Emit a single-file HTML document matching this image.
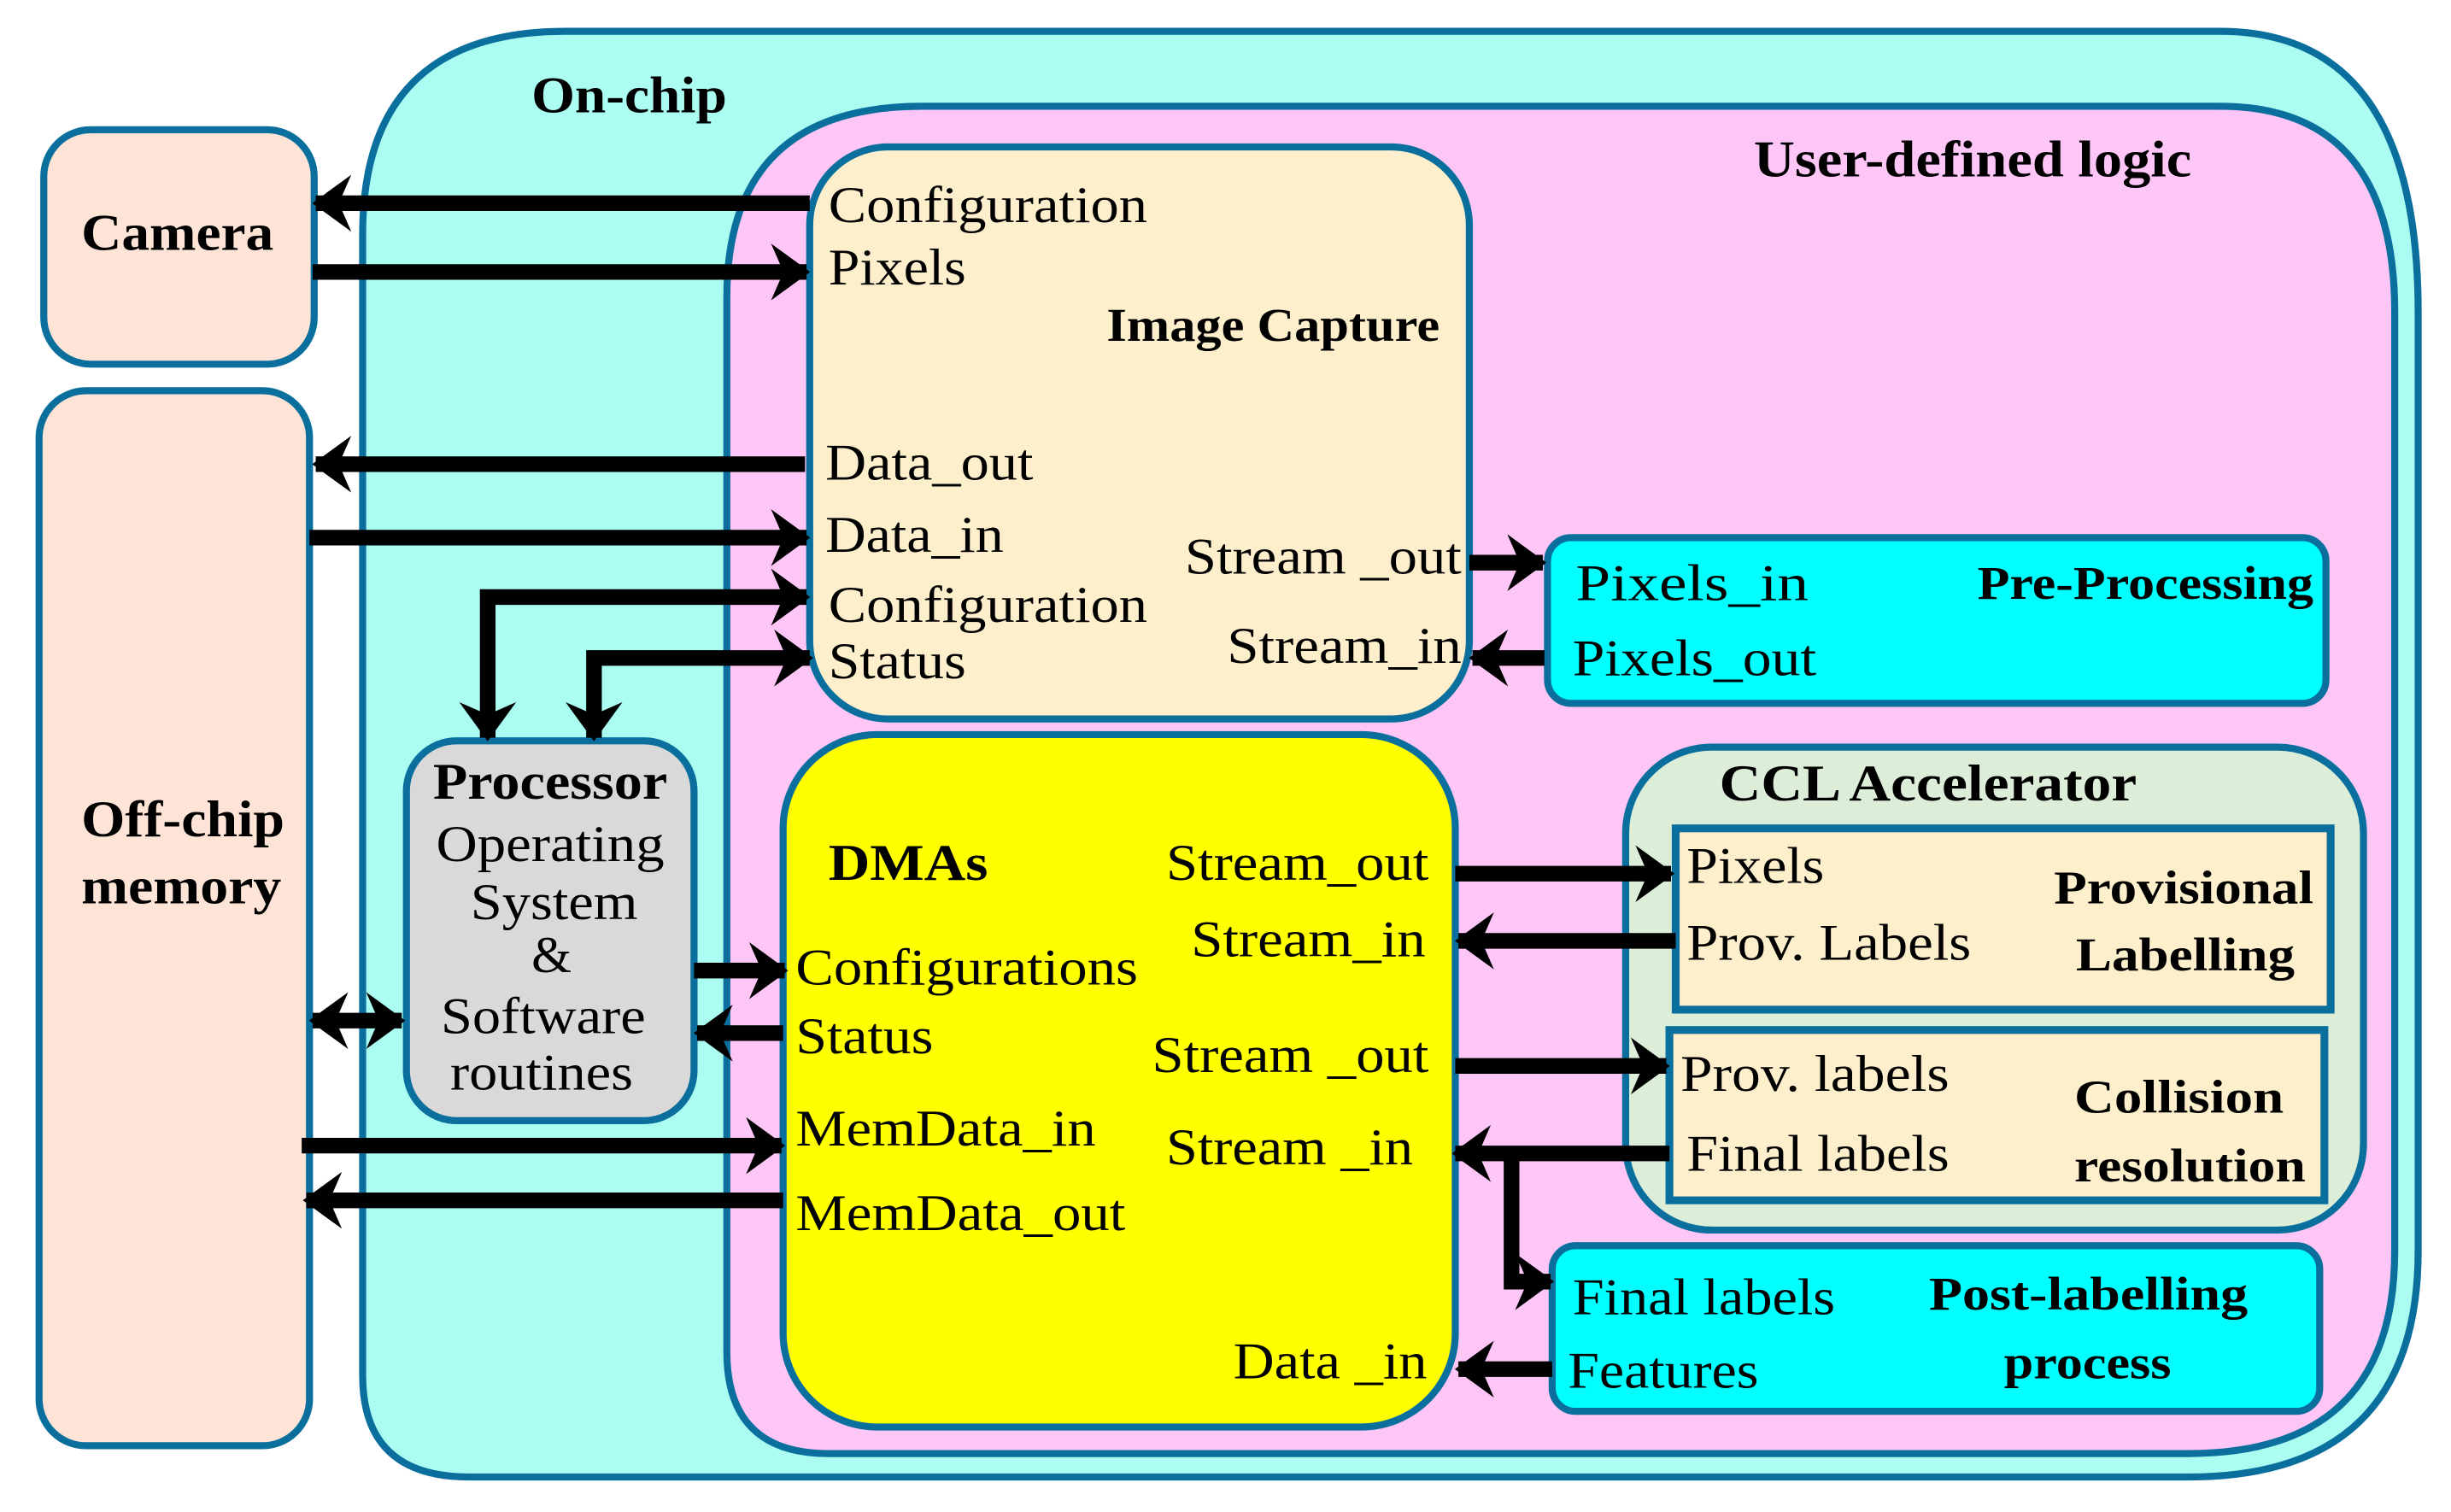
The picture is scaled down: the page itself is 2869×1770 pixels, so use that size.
<!DOCTYPE html>
<html><head><meta charset="utf-8"><style>
html,body{margin:0;padding:0;background:#fff;}
svg{display:block;}
text{font-family:"Liberation Serif",serif;fill:#000;}
.b{font-weight:bold;}
</style></head><body>
<svg width="2869" height="1770" viewBox="0 0 1568 967.4" preserveAspectRatio="none" xmlns="http://www.w3.org/2000/svg">
<defs>
<marker id="ah" markerUnits="userSpaceOnUse" markerWidth="40" markerHeight="50" refX="0" refY="0" viewBox="-30 -22 34 44" orient="auto-start-reverse">
<path d="M2,0 L-20,-16 L-13,0 L-20,16 Z" fill="#000"/>
</marker>
</defs>
<g stroke="#0b6f9e" stroke-width="4.5">
<path d="M362,20 H1420 Q1547,20 1547,200 V800 Q1547,945 1400,945 H300 Q232,945 232,880 V150 Q232,20 362,20 Z" fill="#aafdf0"/>
<path d="M590,68 H1420 Q1532,68 1532,200 V800 Q1532,930 1400,930 H530 Q465,930 465,865 V190 Q465,68 590,68 Z" fill="#fdc6f6"/>
<rect x="28" y="83" width="173" height="150" rx="30" fill="#fde4d6"/>
<rect x="25" y="250" width="173" height="675" rx="30" fill="#fde4d6"/>
<rect x="518" y="94" width="422" height="366" rx="50" fill="#fdefcc"/>
<rect x="990" y="344" width="498" height="106" rx="15" fill="#00ffff"/>
<rect x="260" y="474" width="184" height="243" rx="32" fill="#d9d9d9"/>
<rect x="501" y="470" width="430" height="443" rx="60" fill="#ffff00"/>
<rect x="1040" y="478" width="472" height="309" rx="55" fill="#dcedd8"/>
<rect x="1072" y="530" width="419" height="116" fill="#fdefcc" stroke-width="5"/>
<rect x="1068" y="659" width="419" height="109" fill="#fdefcc" stroke-width="5"/>
<rect x="993" y="797" width="491" height="106" rx="15" fill="#00ffff"/>
</g>
<g stroke="#000" stroke-width="10" fill="none" marker-end="url(#ah)">
<line x1="518" y1="130" x2="202" y2="130"/>
<line x1="200" y1="174" x2="516" y2="174"/>
<line x1="515" y1="297" x2="202" y2="297"/>
<line x1="198" y1="344" x2="516" y2="344"/>
<polyline points="312,472 312,382 516,382" marker-start="url(#ah)"/>
<polyline points="380,472 380,421 518,421" marker-start="url(#ah)"/>
<line x1="940" y1="360" x2="987" y2="360"/>
<line x1="988" y1="421" x2="942" y2="421"/>
<line x1="200" y1="653" x2="257" y2="653" marker-start="url(#ah)"/>
<line x1="444" y1="621" x2="502" y2="621"/>
<line x1="501" y1="661" x2="446" y2="661"/>
<line x1="193" y1="733" x2="500" y2="733"/>
<line x1="501" y1="768" x2="196" y2="768"/>
<line x1="931" y1="559" x2="1069" y2="559"/>
<line x1="1072" y1="602" x2="933" y2="602"/>
<line x1="931" y1="682" x2="1066" y2="682"/>
<line x1="1068" y1="738" x2="931" y2="738"/>
<polyline points="967,738 967,820 992,820"/>
<line x1="993" y1="876" x2="933" y2="876"/>
</g>
<g font-size="33">
<text x="340" y="72" class="b" textLength="125" lengthAdjust="spacingAndGlyphs">On-chip</text>
<text x="1122" y="113" class="b" textLength="280" lengthAdjust="spacingAndGlyphs">User-defined logic</text>
<text x="52" y="160" class="b" textLength="123" lengthAdjust="spacingAndGlyphs">Camera</text>
<text x="52" y="535" class="b" textLength="130" lengthAdjust="spacingAndGlyphs">Off-chip</text>
<text x="52" y="578" class="b" textLength="128" lengthAdjust="spacingAndGlyphs">memory</text>
<text x="530" y="142" textLength="204" lengthAdjust="spacingAndGlyphs">Configuration</text>
<text x="530" y="182" textLength="88" lengthAdjust="spacingAndGlyphs">Pixels</text>
<text x="708" y="218" class="b" font-size="30" textLength="213" lengthAdjust="spacingAndGlyphs">Image Capture</text>
<text x="528" y="307" textLength="133" lengthAdjust="spacingAndGlyphs">Data_out</text>
<text x="528" y="353" textLength="114" lengthAdjust="spacingAndGlyphs">Data_in</text>
<text x="530" y="398" textLength="204" lengthAdjust="spacingAndGlyphs">Configuration</text>
<text x="530" y="434" textLength="88" lengthAdjust="spacingAndGlyphs">Status</text>
<text x="758" y="367" textLength="177" lengthAdjust="spacingAndGlyphs">Stream _out</text>
<text x="785" y="424" textLength="150" lengthAdjust="spacingAndGlyphs">Stream_in</text>
<text x="1008" y="384" textLength="149" lengthAdjust="spacingAndGlyphs">Pixels_in</text>
<text x="1006" y="432" textLength="156" lengthAdjust="spacingAndGlyphs">Pixels_out</text>
<text x="1265" y="383" class="b" font-size="30" textLength="215" lengthAdjust="spacingAndGlyphs">Pre-Processing</text>
<text x="277" y="511" class="b" textLength="150" lengthAdjust="spacingAndGlyphs">Processor</text>
<text x="279" y="551" textLength="146" lengthAdjust="spacingAndGlyphs">Operating</text>
<text x="301" y="588" textLength="107" lengthAdjust="spacingAndGlyphs">System</text>
<text x="340" y="622">&amp;</text>
<text x="282" y="661" textLength="131" lengthAdjust="spacingAndGlyphs">Software</text>
<text x="288" y="697" textLength="117" lengthAdjust="spacingAndGlyphs">routines</text>
<text x="530" y="563" class="b" textLength="102" lengthAdjust="spacingAndGlyphs">DMAs</text>
<text x="746" y="563" textLength="168" lengthAdjust="spacingAndGlyphs">Stream_out</text>
<text x="762" y="612" textLength="150" lengthAdjust="spacingAndGlyphs">Stream_in</text>
<text x="509" y="630" textLength="219" lengthAdjust="spacingAndGlyphs">Configurations</text>
<text x="509" y="674" textLength="88" lengthAdjust="spacingAndGlyphs">Status</text>
<text x="737" y="686" textLength="177" lengthAdjust="spacingAndGlyphs">Stream _out</text>
<text x="746" y="745" textLength="158" lengthAdjust="spacingAndGlyphs">Stream _in</text>
<text x="509" y="733" textLength="192" lengthAdjust="spacingAndGlyphs">MemData_in</text>
<text x="509" y="787" textLength="211" lengthAdjust="spacingAndGlyphs">MemData_out</text>
<text x="789" y="882" textLength="124" lengthAdjust="spacingAndGlyphs">Data _in</text>
<text x="1100" y="512" class="b" textLength="267" lengthAdjust="spacingAndGlyphs">CCL Accelerator</text>
<text x="1079" y="565" textLength="88" lengthAdjust="spacingAndGlyphs">Pixels</text>
<text x="1079" y="614" textLength="182" lengthAdjust="spacingAndGlyphs">Prov. Labels</text>
<text x="1314" y="578" class="b" font-size="30" textLength="166" lengthAdjust="spacingAndGlyphs">Provisional</text>
<text x="1328" y="621" class="b" font-size="30" textLength="140" lengthAdjust="spacingAndGlyphs">Labelling</text>
<text x="1075" y="698" textLength="172" lengthAdjust="spacingAndGlyphs">Prov. labels</text>
<text x="1079" y="749" textLength="168" lengthAdjust="spacingAndGlyphs">Final labels</text>
<text x="1327" y="712" class="b" font-size="30" textLength="134" lengthAdjust="spacingAndGlyphs">Collision</text>
<text x="1327" y="756" class="b" font-size="30" textLength="148" lengthAdjust="spacingAndGlyphs">resolution</text>
<text x="1006" y="841" textLength="168" lengthAdjust="spacingAndGlyphs">Final labels</text>
<text x="1003" y="888" textLength="122" lengthAdjust="spacingAndGlyphs">Features</text>
<text x="1234" y="838" class="b" font-size="30" textLength="204" lengthAdjust="spacingAndGlyphs">Post-labelling</text>
<text x="1282" y="882" class="b" font-size="30" textLength="107" lengthAdjust="spacingAndGlyphs">process</text>
</g>
</svg>
</body></html>
